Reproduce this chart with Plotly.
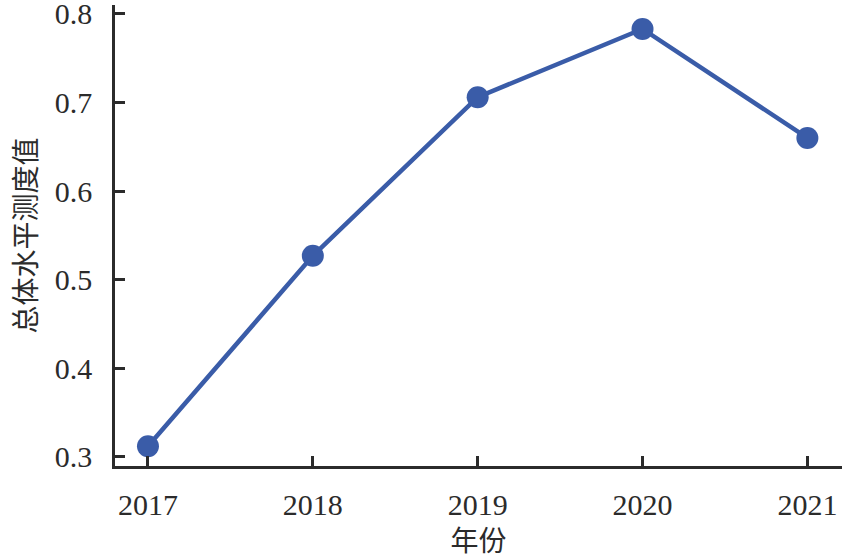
import plotly.graph_objects as go

years = [2017, 2018, 2019, 2020, 2021]
values = [0.312, 0.527, 0.706, 0.783, 0.660]
y_ticks = [0.3, 0.4, 0.5, 0.6, 0.7, 0.8]
y_tick_labels = ["0.3", "0.4", "0.5", "0.6", "0.7", "0.8"]

font_family = "Liberation Serif, Times New Roman, Noto Sans CJK SC, serif"
blue = "#3a5ca8"
axis_col = "#2b2b2b"

fig = go.Figure()
fig.add_trace(go.Scatter(
    x=years, y=values, mode="lines+markers",
    line=dict(color=blue, width=4.5),
    marker=dict(color=blue, size=22),
    showlegend=False,
))

fig.update_layout(
    width=850, height=557,
    margin=dict(l=115, r=8, t=5, b=91),
    paper_bgcolor="white", plot_bgcolor="white",
    font=dict(family=font_family, size=30, color=axis_col),
)
fig.update_xaxes(
    range=[2016.8, 2021.21],
    tickvals=years, ticktext=[str(y) for y in years],
    showline=True, linecolor=axis_col, linewidth=2.5,
    ticks="inside", ticklen=10, tickwidth=2.5, tickcolor=axis_col,
    showgrid=False, zeroline=False, automargin=False,
    title=dict(text="年份", standoff=13, font=dict(size=28)),
    ticklabelstandoff=10,
)
fig.update_yaxes(
    range=[0.2898, 0.810],
    tickvals=y_ticks, ticktext=y_tick_labels,
    showline=True, linecolor=axis_col, linewidth=2.5,
    ticks="inside", ticklen=10, tickwidth=2.5, tickcolor=axis_col,
    showgrid=False, zeroline=False, automargin=False,
    ticklabeloverflow="allow",
    title=dict(text="总体水平测度值", standoff=10, font=dict(size=28)),
    ticklabelstandoff=14,
)

fig.write_html(
    "out.html",
    config={"displayModeBar": False},
    post_script="document.body.style.margin='0';document.body.style.overflow='hidden';",
)
